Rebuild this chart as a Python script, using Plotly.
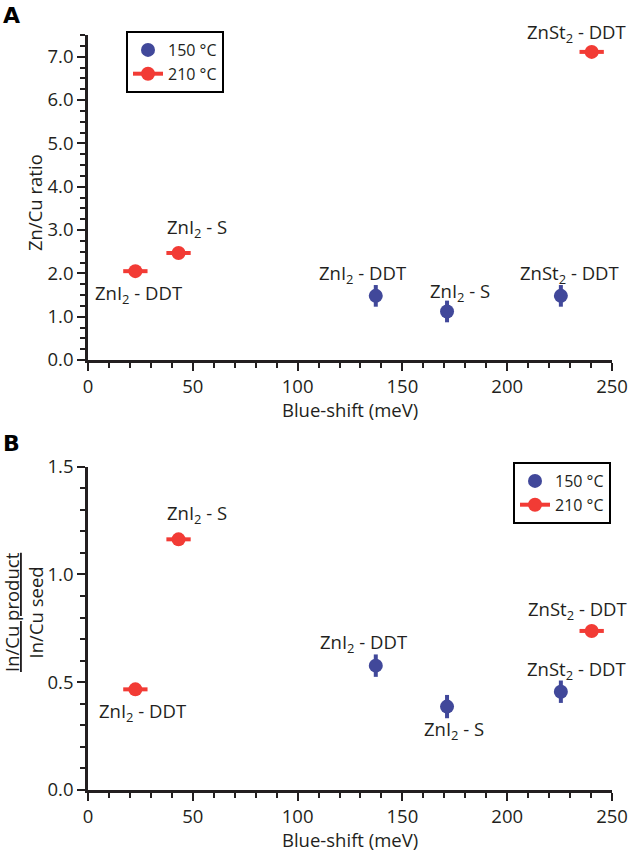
import plotly.graph_objects as go

# ---------------- data ----------------
sample_labels = ["ZnI<sub>2</sub> - DDT", "ZnI<sub>2</sub> - S", "ZnSt<sub>2</sub> - DDT"]

shift_150 = [137.3, 171.3, 225.6]
shift_210 = [22.6, 43.2, 240.3]

zncu_150 = [1.48, 1.12, 1.48]
zncu_150_err = [0.25, 0.25, 0.25]
zncu_210 = [2.05, 2.47, 7.11]
shift_210_err = [5.8, 5.8, 5.8]

incu_150 = [0.577, 0.387, 0.456]
incu_150_err = [0.052, 0.054, 0.052]
incu_210 = [0.467, 1.163, 0.738]

x_ticks = [0, 50, 100, 150, 200, 250]

# ---------------- style ----------------
W, H = 630, 853
BLUE = "#41489a"
RED = "#f23b35"
INK = "#231f20"
FONT = "Open Sans"
FS = 18.5

def px_x(p):
    return p / W

def px_y(p):
    return 1 - p / H

# label offsets (pixels) relative to each point: (dx, dy-up)
off_A_150 = [(-13, 22), (13, 19), (9, 22)]
off_A_210 = [(3, -23), (18, 25), (-15, 19)]
off_B_150 = [(-12, 23), (7, -23), (16, 22)]
off_B_210 = [(7, -23), (18, 25), (-14, 21)]

fig = go.Figure()

# Panel A
fig.add_trace(go.Scatter(
    x=shift_150, y=zncu_150, mode="markers", name="150 °C",
    marker=dict(color=BLUE, size=14),
    error_y=dict(type="data", array=zncu_150_err, color=BLUE, thickness=4, width=0),
    xaxis="x", yaxis="y", legend="legend", showlegend=True))
fig.add_trace(go.Scatter(
    x=shift_210, y=zncu_210, mode="markers", name="210 °C",
    marker=dict(color=RED, size=14),
    error_x=dict(type="data", array=shift_210_err, color=RED, thickness=4, width=0),
    xaxis="x", yaxis="y", legend="legend", showlegend=False))
fig.add_trace(go.Scatter(
    x=[None], y=[None], mode="lines+markers", name="210 °C",
    marker=dict(color=RED, size=14), line=dict(color=RED, width=4),
    xaxis="x", yaxis="y", legend="legend", showlegend=True))

# Panel B
fig.add_trace(go.Scatter(
    x=shift_150, y=incu_150, mode="markers", name="150 °C",
    marker=dict(color=BLUE, size=14),
    error_y=dict(type="data", array=incu_150_err, color=BLUE, thickness=4, width=0),
    xaxis="x2", yaxis="y2", legend="legend2", showlegend=True))
fig.add_trace(go.Scatter(
    x=shift_210, y=incu_210, mode="markers", name="210 °C",
    marker=dict(color=RED, size=14),
    error_x=dict(type="data", array=shift_210_err, color=RED, thickness=4, width=0),
    xaxis="x2", yaxis="y2", legend="legend2", showlegend=False))
fig.add_trace(go.Scatter(
    x=[None], y=[None], mode="lines+markers", name="210 °C",
    marker=dict(color=RED, size=14), line=dict(color=RED, width=4),
    xaxis="x2", yaxis="y2", legend="legend2", showlegend=True))

annotations = []

def add_labels(xs, ys, offs, xref, yref):
    for xv, yv, lab, (dx, dy) in zip(xs, ys, sample_labels, offs):
        annotations.append(dict(
            x=xv, y=yv, xref=xref, yref=yref, text=lab, showarrow=False,
            xshift=dx, yshift=dy, xanchor="center", yanchor="middle",
            font=dict(family=FONT, size=FS, color=INK)))

add_labels(shift_150, zncu_150, off_A_150, "x", "y")
add_labels(shift_210, zncu_210, off_A_210, "x", "y")
add_labels(shift_150, incu_150, off_B_150, "x2", "y2")
add_labels(shift_210, incu_210, off_B_210, "x2", "y2")

def paper_text(x, y, text, size=FS, angle=0, family=FONT, color=INK):
    annotations.append(dict(
        x=px_x(x), y=px_y(y), xref="paper", yref="paper", text=text,
        textangle=angle, showarrow=False, xanchor="center", yanchor="middle",
        font=dict(family=family, size=size, color=color)))

# axis titles
paper_text(35, 203, "Zn/Cu ratio", angle=-90)
paper_text(23, 612, "<u>In/Cu product</u><br>In/Cu seed", angle=-90)
paper_text(350, 409, "Blue-shift (meV)")
paper_text(350, 839, "Blue-shift (meV)")

# panel letters
paper_text(11, 16, "<b>A</b>", size=22, family="DejaVu Sans", color="black")
paper_text(11, 443, "<b>B</b>", size=22, family="DejaVu Sans", color="black")

def xaxis_cfg(anchor):
    return dict(
        domain=[px_x(88), px_x(612)], anchor=anchor, range=[0, 250],
        tickvals=x_ticks, ticks="outside", ticklen=8, tickwidth=2, tickcolor=INK,
        minor=dict(ticks="outside", ticklen=5, tickwidth=2, dtick=10, tick0=0, tickcolor=INK),
        showline=True, linewidth=2.5, linecolor=INK, showgrid=False, zeroline=False,
        tickfont=dict(family=FONT, size=FS, color=INK), automargin=False,
    )

def yaxis_cfg(anchor, top_px, bot_px, rng, dtick, minor_dtick):
    return dict(
        domain=[px_y(bot_px), px_y(top_px)], anchor=anchor, range=rng,
        dtick=dtick, tick0=0, tickformat=".1f", ticks="outside", ticklen=8, tickwidth=2,
        tickcolor=INK, automargin=False,
        minor=dict(ticks="outside", ticklen=5, tickwidth=2, dtick=minor_dtick, tick0=0, tickcolor=INK),
        showline=True, linewidth=2.5, linecolor=INK, showgrid=False, zeroline=False,
        tickfont=dict(family=FONT, size=FS, color=INK),
    )

legend_common = dict(
    bgcolor="white", bordercolor="black", borderwidth=2,
    font=dict(family=FONT, size=16, color=INK),
    xanchor="left", yanchor="top", tracegroupgap=0, itemwidth=30,
)

fig.update_layout(
    width=W, height=H, margin=dict(l=0, r=0, t=0, b=0, autoexpand=False),
    plot_bgcolor="white", paper_bgcolor="white",
    xaxis=xaxis_cfg("y"),
    yaxis=yaxis_cfg("x", 35, 360, [0, 7.5], 1, 0.25),
    xaxis2=xaxis_cfg("y2"),
    yaxis2=yaxis_cfg("x2", 466.7, 790, [0, 1.5], 0.5, 0.1),
    legend=dict(x=px_x(126), y=px_y(31), **legend_common),
    legend2=dict(x=px_x(513), y=px_y(462), **legend_common),
    annotations=annotations,
)

fig.write_html(
    "out.html",
    config={"displayModeBar": False},
    post_script="document.body.style.margin='0';document.body.style.overflow='hidden';",
)
